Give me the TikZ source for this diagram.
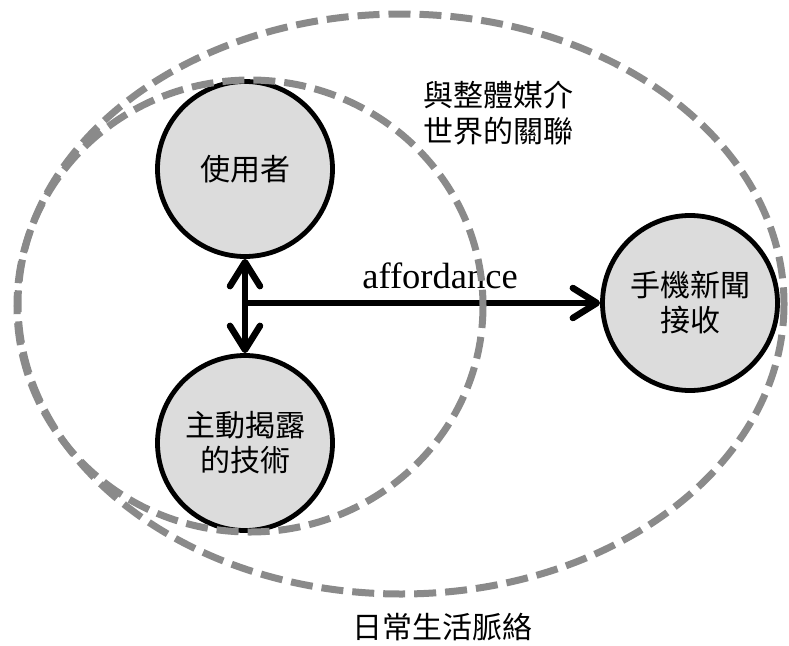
\documentclass[tikz,border=0pt]{standalone}
\usepackage{fontspec}
\setmainfont{Liberation Serif}
\newfontfamily\cjk{Noto Sans CJK TC}
\usetikzlibrary{arrows.meta}
\definecolor{dashgray}{HTML}{8A8A8A}
\definecolor{nodefill}{HTML}{DCDCDC}
\tikzset{
  bubble/.style={circle, draw=black, line width=4.8pt, fill=nodefill, minimum size=175pt, inner sep=0pt, align=center, font=\cjk\fontsize{30}{35}\selectfont},
  ctx/.style={draw=dashgray, line width=7pt, dash pattern=on 22pt off 9pt},
  conn/.style={line width=6.5pt, draw=black},
  barb/.tip={Straight Barb[length=24pt,width=30pt,round]},
  lbl/.style={align=center, font=\cjk\fontsize{30}{36}\selectfont, inner sep=0pt}
}
\begin{document}
\begin{tikzpicture}[x=1pt,y=-1pt]
\useasboundingbox (0,0) rectangle (789,645);
\node[bubble] (n1) at (245,169) {使用者};
\node[bubble] (n2) at (245,443) {主動揭露\\的技術};
\node[bubble] (n3) at (690,303) {手機新聞\\接收};
\coordinate (j) at (n1.south |- n3.west);
\draw[conn, barb-barb] (n1) -- (n2);
\draw[conn, -barb] (j) -- (n3.west);
\node[anchor=base, inner sep=0pt, font=\fontsize{36.5}{40}\selectfont] (aff) at (440,288) {affordance};
\node[lbl] (world) at (498,113) {與整體媒介\\世界的關聯};
\node[lbl] (daily) at (442,627) {日常生活脈絡};
\draw[ctx] (401,304) ellipse [x radius=383, y radius=290];
\draw[ctx] (250,306) ellipse [x radius=233, y radius=226];
\end{tikzpicture}
\end{document}
